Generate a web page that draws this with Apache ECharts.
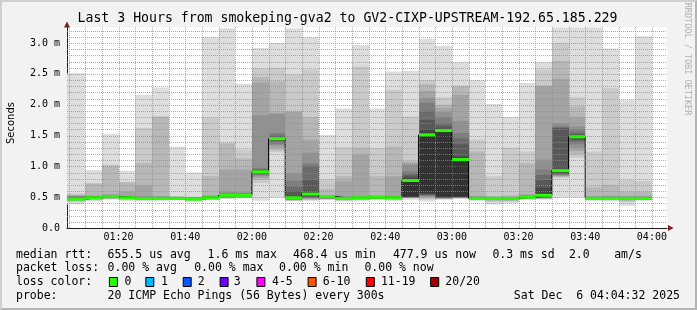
<!DOCTYPE html>
<html><head><meta charset="utf-8">
<script src="https://cdn.jsdelivr.net/npm/echarts@6/dist/echarts.min.js"></script>
<style>
html,body{margin:0;padding:0;background:#f2f2f2;}
#wrap{position:relative;width:697px;height:310px;overflow:hidden;}
#chart{width:697px;height:310px;}
#frame{position:absolute;left:0;top:0;width:697px;height:310px;box-sizing:border-box;border-top:2px solid #cfcfcf;border-left:2px solid #cfcfcf;border-bottom:2px solid #b4b4b4;border-right:2px solid #b4b4b4;pointer-events:none;}
</style></head>
<body><div id="wrap"><div id="chart"></div><div id="frame"></div></div>
<script>
// ---------------- DATA ----------------
const titleText = 'Last 3 Hours from smokeping-gva2 to GV2-CIXP-UPSTREAM-192.65.185.229';
const rangeStart = '01:04:32';
const rangeEnd = '04:04:32';
const stepMinutes = 5;
// end time of each 5-minute step
const barEnd = ['01:10','01:15','01:20','01:25','01:30','01:35','01:40','01:45','01:50','01:55',
  '02:00','02:05','02:10','02:15','02:20','02:25','02:30','02:35','02:40','02:45','02:50','02:55',
  '03:00','03:05','03:10','03:15','03:20','03:25','03:30','03:35','03:40','03:45','03:50','03:55','04:00'];
// median rtt per step (ms)
const medianRtt = [0.47,0.49,0.51,0.49,0.48,0.48,0.48,0.47,0.49,0.53,
  0.53,0.91,1.45,0.49,0.55,0.51,0.48,0.49,0.50,0.49,0.77,1.51,
  1.58,1.11,0.48,0.48,0.48,0.50,0.53,0.93,1.48,0.48,0.48,0.48,0.48];
// 20 sorted ping rtts per step (ms) -> smoke
const smokePings = [
 [0.38,0.42,0.44,0.45,0.45,0.46,0.46,0.46,0.47,0.47,0.47,0.48,0.49,0.50,0.51,0.52,0.53,0.54,0.56,2.51],
 [0.43,0.45,0.46,0.47,0.47,0.48,0.48,0.48,0.49,0.49,0.49,0.50,0.50,0.51,0.51,0.52,0.53,0.72,0.73,0.94],
 [0.46,0.47,0.48,0.48,0.49,0.49,0.50,0.50,0.50,0.51,0.51,0.52,0.52,0.53,0.53,0.54,0.55,1.01,1.03,1.53],
 [0.44,0.46,0.47,0.47,0.48,0.48,0.48,0.49,0.49,0.49,0.49,0.50,0.50,0.51,0.51,0.52,0.59,0.74,0.75,0.93],
 [0.43,0.45,0.46,0.46,0.47,0.47,0.47,0.48,0.48,0.48,0.48,0.49,0.49,0.50,0.50,0.52,0.69,1.05,1.62,2.16],
 [0.44,0.45,0.46,0.47,0.47,0.47,0.48,0.48,0.48,0.48,0.48,0.49,0.49,0.50,0.50,0.51,0.52,1.80,1.82,2.28],
 [0.45,0.46,0.46,0.47,0.47,0.47,0.48,0.48,0.48,0.48,0.48,0.49,0.49,0.49,0.50,0.50,0.50,0.51,0.52,1.32],
 [0.42,0.44,0.45,0.45,0.46,0.46,0.46,0.47,0.47,0.47,0.47,0.48,0.48,0.48,0.49,0.49,0.50,0.50,0.51,0.90],
 [0.45,0.46,0.47,0.47,0.48,0.48,0.48,0.49,0.49,0.49,0.49,0.50,0.50,0.51,0.51,0.52,0.53,0.84,1.79,3.09],
 [0.47,0.48,0.49,0.49,0.50,0.50,0.51,0.51,0.52,0.52,0.53,0.54,0.54,0.55,0.56,0.59,0.95,1.37,1.39,3.24],
 [0.48,0.49,0.49,0.50,0.50,0.51,0.51,0.52,0.52,0.52,0.53,0.54,0.54,0.55,0.56,0.58,0.95,1.13,1.27,2.34],
 [0.44,0.73,0.78,0.81,0.84,0.86,0.87,0.88,0.89,0.90,0.91,0.92,0.93,0.95,0.97,1.83,2.36,2.45,2.59,2.92],
 [0.49,1.23,1.26,1.30,1.34,1.36,1.40,1.42,1.43,1.44,1.45,1.47,1.48,1.50,1.54,1.85,1.87,2.38,2.60,3.00],
 [0.44,0.44,0.45,0.45,0.46,0.46,0.47,0.47,0.48,0.48,0.49,0.51,0.60,0.67,0.77,0.89,1.88,1.90,2.49,3.24],
 [0.44,0.45,0.46,0.47,0.48,0.49,0.50,0.51,0.52,0.53,0.55,0.59,0.78,1.00,1.05,1.22,1.43,1.80,2.57,3.09],
 [0.45,0.46,0.47,0.47,0.48,0.48,0.49,0.49,0.50,0.50,0.51,0.51,0.51,0.52,0.52,0.52,0.53,0.63,0.79,1.51],
 [0.43,0.44,0.45,0.46,0.46,0.47,0.47,0.47,0.48,0.48,0.48,0.49,0.49,0.50,0.50,0.51,0.76,0.84,1.31,1.94],
 [0.44,0.45,0.46,0.46,0.47,0.47,0.48,0.48,0.48,0.49,0.49,0.49,0.50,0.50,0.51,0.52,1.19,1.30,2.62,2.97],
 [0.45,0.46,0.47,0.47,0.48,0.48,0.49,0.49,0.49,0.50,0.50,0.50,0.51,0.51,0.51,0.52,0.53,0.84,1.30,1.94],
 [0.44,0.45,0.46,0.47,0.47,0.48,0.48,0.48,0.49,0.49,0.49,0.50,0.50,0.51,0.51,0.52,0.84,1.32,2.24,2.54],
 [0.46,0.48,0.49,0.49,0.50,0.50,0.50,0.51,0.51,0.51,0.77,0.81,0.85,0.88,0.92,1.03,1.06,1.08,1.81,2.55],
 [0.43,0.46,0.48,0.50,0.51,0.52,0.53,0.54,0.55,0.57,1.51,1.60,1.75,1.90,2.03,2.11,2.22,2.33,2.40,3.07],
 [0.46,0.47,0.47,0.48,0.48,0.49,0.49,0.50,0.50,0.51,1.58,1.60,1.65,1.70,1.80,1.88,1.95,2.00,2.12,2.95],
 [0.47,0.48,0.49,0.49,0.50,0.50,0.50,0.51,0.51,0.51,1.11,1.16,1.36,1.45,1.54,1.74,2.16,2.30,2.31,2.69],
 [0.44,0.45,0.46,0.46,0.47,0.47,0.47,0.48,0.48,0.48,0.48,0.49,0.49,0.50,0.50,0.51,0.52,1.24,1.43,2.40],
 [0.38,0.42,0.44,0.45,0.46,0.46,0.47,0.47,0.47,0.48,0.48,0.49,0.49,0.49,0.50,0.50,0.51,0.52,0.84,2.01],
 [0.40,0.43,0.44,0.45,0.46,0.46,0.47,0.47,0.47,0.48,0.48,0.49,0.49,0.49,0.50,0.50,0.51,0.53,1.30,1.80],
 [0.46,0.47,0.47,0.48,0.48,0.49,0.49,0.49,0.50,0.50,0.50,0.51,0.51,0.52,0.52,0.53,0.55,1.05,1.24,2.35],
 [0.46,0.47,0.48,0.48,0.49,0.49,0.50,0.50,0.51,0.51,0.53,0.65,0.78,0.86,0.95,1.11,2.30,2.32,2.57,2.69],
 [0.49,0.81,0.83,0.84,0.85,0.86,0.87,0.88,0.89,0.91,0.93,0.96,1.62,1.63,1.65,1.70,2.42,2.71,3.00,3.25],
 [0.49,1.14,1.20,1.25,1.30,1.36,1.40,1.43,1.45,1.46,1.48,1.50,1.52,1.55,1.60,1.65,1.80,1.97,2.12,3.25],
 [0.44,0.45,0.46,0.46,0.47,0.47,0.47,0.48,0.48,0.48,0.48,0.49,0.49,0.50,0.50,0.51,0.52,0.66,1.24,3.25],
 [0.43,0.45,0.46,0.46,0.47,0.47,0.47,0.48,0.48,0.48,0.48,0.49,0.49,0.50,0.50,0.51,0.53,0.70,2.27,2.91],
 [0.36,0.42,0.44,0.45,0.46,0.46,0.47,0.47,0.47,0.48,0.48,0.49,0.49,0.50,0.50,0.51,0.52,0.59,0.78,2.08],
 [0.44,0.45,0.46,0.46,0.47,0.47,0.47,0.48,0.48,0.48,0.48,0.49,0.49,0.50,0.50,0.51,0.52,0.59,0.76,3.11]
];
const yMaxMs = 3.26;
const yLabelValues = [0,0.5,1.0,1.5,2.0,2.5,3.0];
const xLabelTimes = ['01:20','01:40','02:00','02:20','02:40','03:00','03:20','03:40','04:00'];
const medianStats = ['655.5 us avg','1.6 ms max','468.4 us min','477.9 us now','0.3 ms sd','2.0','am/s'];
const lossStats = ['0.00 % avg','0.00 % max','0.00 % min','0.00 % now'];
const lossLabels = ['0','1','2','3','4-5','6-10','11-19','20/20'];
const lossColors = ['#26ff00','#00b8ff','#0059ff','#6a00ff','#ff00ff','#ff5500','#ff0000','#a10000'];
const probeText = '20 ICMP Echo Pings (56 Bytes) every 300s';
const dateText = 'Sat Dec  6 04:04:32 2025';

// ---------------- LAYOUT ----------------
const MONO = '"DejaVu Sans Mono", monospace';
const medianStatX = [107.6,207.6,292.9,392.9,492.4,568.9,614.2];
const lossStatX = [107.6,194.2,279.1,364.4];
const lossBoxX = [108.9,145.3,182.7,219.6,256.4,307.6,365.8,430.2];
const lossLabelX = [124.4,161,197.8,233.8,272,322.7,380.9,445.3];
const rowY = [255,268.5,282,296];

function toMin(s){const p=s.split(':').map(Number);return p[0]*60+p[1]+(p[2]||0)/60;}
const X_MIN = toMin(rangeStart), X_MAX = toMin(rangeEnd);
const fmtTime = v => { const m=Math.round(v); return String(Math.floor(m/60)).padStart(2,'0')+':'+String(m%60).padStart(2,'0'); };

// bars [start,end,p1..p20]
const smokeData = barEnd.map((t,i)=>{
  const e = toMin(t); const s = i===0 ? X_MIN : e-stepMinutes;
  return [s,e].concat(smokePings[i]);
});
const medianSegs = barEnd.map((t,i)=>{const e=toMin(t); const s=i===0?X_MIN:e-stepMinutes; return [s,e,medianRtt[i]];});
const medianStep = [];
medianSegs.forEach(d=>{medianStep.push([d[0],d[2]]);medianStep.push([d[1],d[2]]);});

// grid line values
const vMinor=[],vMajor=[],hMinor=[],hMajor=[];
for(let m=Math.ceil(X_MIN/5)*5;m<X_MAX;m+=5){ (m%20===0?vMajor:vMinor).push(m); }
for(let k=1;k*0.1<yMaxMs;k++){ (k%5===0?hMajor:hMinor).push(+(k*0.1).toFixed(1)); }

const smokeGray = k => { const c = Math.floor(190/10*(10-(k+1)))+50; const h=c.toString(16).padStart(2,'0'); return '#'+h+h+h; };

function gridSeries(values, vertical, color, z){
  return {
    type:'custom', z, silent:true, clip:true,
    data: values.map(v=>[v]),
    encode:{x:vertical?0:-1, y:vertical?-1:0},
    renderItem(params, api){
      const v = api.value(0);
      let x1,y1,x2,y2;
      if(vertical){ const a=api.coord([v,0]), b=api.coord([v,yMaxMs]); x1=x2=Math.round(a[0])+0.5; y1=a[1]; y2=b[1]; }
      else { const a=api.coord([X_MIN,v]), b=api.coord([X_MAX,v]); y1=y2=Math.round(a[1])+0.5; x1=a[0]; x2=b[0]; }
      return {type:'line', shape:{x1,y1,x2,y2}, style:{stroke:color, lineWidth:1, lineDash:[1,1]}};
    }
  };
}

const chart = echarts.init(document.getElementById('chart'), null, {renderer:'canvas'});
const option = {
  animation:false,
  backgroundColor:'#f2f2f2',
  grid:{left:67, top:27, width:600, height:201, show:true, backgroundColor:'#ffffff', borderWidth:0},
  xAxis:{type:'value', min:X_MIN, max:X_MAX,
    axisLine:{show:true, onZero:false, lineStyle:{color:'#1f1f1f', width:1}},
    axisTick:{show:false}, splitLine:{show:false},
    axisLabel:{customValues:xLabelTimes.map(toMin), formatter:v=>fmtTime(v), color:'#000', fontFamily:MONO, fontSize:10, margin:4}
  },
  yAxis:{type:'value', min:0, max:yMaxMs,
    axisLine:{show:true, onZero:false, lineStyle:{color:'#1f1f1f', width:1}},
    axisTick:{show:false}, splitLine:{show:false},
    axisLabel:{customValues:yLabelValues, formatter:v=> v===0?'0.0':v.toFixed(1)+' m', color:'#000', fontFamily:MONO, fontSize:10, margin:7}
  },
  series:[
    { type:'custom', z:1, clip:true, silent:true,
      data:smokeData,
      encode:{x:[0,1], y:[2,21]},
      renderItem(params, api){
        const s=api.value(0), e=api.value(1);
        const children=[];
        for(let k=0;k<10;k++){
          const lo=api.value(2+k), hi=api.value(21-k);
          const a=api.coord([s,hi]), b=api.coord([e,lo]);
          const x0=Math.round(a[0]), x1=Math.round(b[0]);
          children.push({type:'rect', shape:{x:x0, y:a[1], width:x1-x0, height:Math.max(b[1]-a[1],0.6)}, style:{fill:smokeGray(k)}});
        }
        return {type:'group', children};
      }
    },
    { type:'line', z:2, data:medianStep, symbol:'none', silent:true, lineStyle:{color:'#000', width:1}},
    { type:'custom', z:3, clip:true, silent:true, data:medianSegs, encode:{x:[0,1], y:2},
      renderItem(params, api){
        const a=api.coord([api.value(0),api.value(2)]), b=api.coord([api.value(1),api.value(2)]);
        return {type:'line', shape:{x1:Math.round(a[0]),y1:a[1],x2:Math.round(b[0]),y2:b[1]}, style:{stroke:lossColors[0], lineWidth:3}};
      }
    },
    gridSeries(hMinor,false,'rgba(143,143,143,0.75)',4),
    gridSeries(vMinor,true,'rgba(143,143,143,0.75)',4),
    gridSeries(hMajor,false,'rgba(222,79,79,0.6)',5),
    gridSeries(vMajor,true,'rgba(222,79,79,0.6)',5)
  ]
};
chart.setOption(option);

// decorations and legend text
const o = chart.convertToPixel({gridIndex:0},[X_MIN,0]);
const tr = chart.convertToPixel({gridIndex:0},[X_MAX,yMaxMs]);
const g = [];
const T = (text,x,y,opt={}) => g.push({type:'text', x, y, silent:true, z:100, style:Object.assign({text, fill:'#000', font:'11.5px '+MONO, textAlign:'left', textVerticalAlign:'middle'},opt)});
T(titleText, 347.5, 19, {font:'13.2px '+MONO, textAlign:'center'});
g.push({type:'text', x:11, y:123, rotation:Math.PI/2, silent:true, style:{text:'Seconds', fill:'#000', font:'10px "DejaVu Sans", sans-serif', textAlign:'center', textVerticalAlign:'middle'}});
g.push({type:'text', x:687, y:59, rotation:-Math.PI/2, silent:true, style:{text:'RRDTOOL / TOBI OETIKER', fill:'#b0b0b0', font:'8.5px '+MONO, textAlign:'center', textVerticalAlign:'middle'}});
// axis arrows
g.push({type:'line', silent:true, z:50, shape:{x1:Math.round(o[0])+0.5,y1:tr[1],x2:Math.round(o[0])+0.5,y2:tr[1]-3}, style:{stroke:'#1f1f1f',lineWidth:1}});
g.push({type:'polygon', silent:true, z:51, shape:{points:[[o[0]-3,tr[1]+0.5],[o[0]+3,tr[1]+0.5],[o[0],tr[1]-5.5]]}, style:{fill:'#801f1f'}});
g.push({type:'polygon', silent:true, z:51, shape:{points:[[tr[0]+1,o[1]-3],[tr[0]+1,o[1]+3],[tr[0]+6.5,o[1]]]}, style:{fill:'#801f1f'}});
// legend rows
T('median rtt:',16,rowY[0]);
medianStats.forEach((s,i)=>T(s,medianStatX[i],rowY[0]));
T('packet loss:',16,rowY[1]);
lossStats.forEach((s,i)=>T(s,lossStatX[i],rowY[1]));
T('loss color:',16,rowY[2]);
lossLabels.forEach((s,i)=>{
  g.push({type:'rect', silent:true, z:100, shape:{x:lossBoxX[i]+0.5,y:rowY[2]-4.5,width:8,height:9}, style:{fill:lossColors[i], stroke:'#000', lineWidth:1}});
  T(s,lossLabelX[i],rowY[2]);
});
T('probe:',16,rowY[3]);
T(probeText,107.6,rowY[3]);
T(dateText,680,rowY[3],{textAlign:'right'});
chart.setOption({graphic:{elements:g}});
</script>
</body></html>
